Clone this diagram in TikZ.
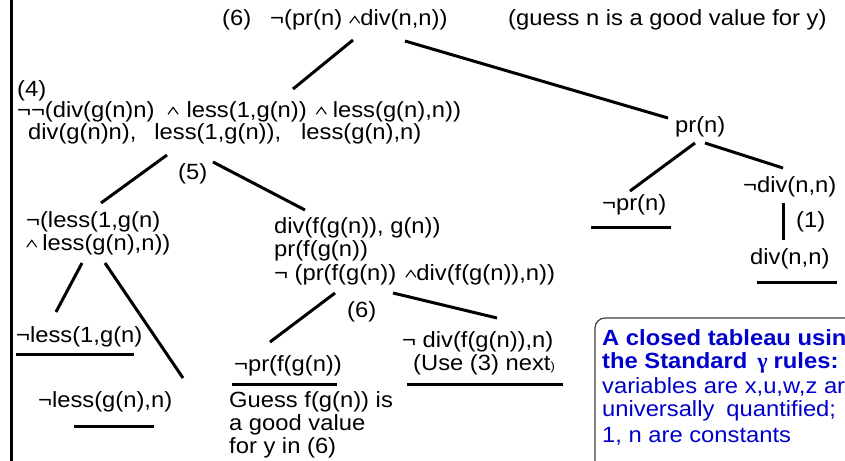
\documentclass[tikz,border=0pt]{standalone}
\usepackage{fontspec}
\setmainfont[FakeStretch=1.08]{Liberation Sans}
\newfontfamily\gamfnt{Liberation Serif}
\newcommand\wed{\tikz[baseline=0pt,x=1pt,y=1pt]\draw[line width=1.1pt,line join=miter] (0,2.8) -- (5,9.6) -- (10,2.8);}
\definecolor{boxblue}{RGB}{0,0,205}
\begin{document}
\begin{tikzpicture}[x=1pt,y=-1pt,
  txt/.style={inner sep=0pt, anchor=base west, font=\fontsize{22}{23}\selectfont},
  btxt/.style={txt, text=boxblue},
  edge/.style={line width=3pt},
  ul/.style={line width=3pt},
]
\useasboundingbox (0,0) rectangle (845,460);
\fill[white] (0,0) rectangle (845,460);
\clip (0,0) rectangle (845,460);

% left border line
\draw[line width=3pt] (11.5,-5) -- (11.5,470);

% texts
\node[txt] (root) at (222,26) {(6)\hspace{19pt}¬(pr(n)\hspace{7pt}\wed div(n,n))};
\node[txt] (guess) at (508,26) {(guess n is a good value for y)};
\node[txt] (n4) at (17,96) {(4)};
\node[txt] (n4b) at (17,117) {¬¬(div(g(n)n)\hspace{13pt}\wed\hspace{8pt}less(1,g(n))\hspace{9pt}\wed\hspace{6pt}less(g(n),n))};
\node[txt] (n4c) at (28,139) {div(g(n)n),\hspace{18pt}less(1,g(n)),\hspace{20pt}less(g(n),n)};
\node[txt] (prn) at (675,132) {pr(n)};
\node[txt] (npr) at (602,210) {¬pr(n)};
\node[txt] (ndiv) at (743,192) {¬div(n,n)};
\node[txt] (one) at (796,227) {(1)};
\node[txt] (divnn) at (750,264) {div(n,n)};
\node[txt] (n5) at (178,179) {(5)};
\node[txt] (nl1) at (26,227) {¬(less(1,g(n)};
\node[txt] (nl2) at (26,250) {\wed\hspace{5pt}less(g(n),n))};
\node[txt] (df1) at (274,233) {div(f(g(n)), g(n))};
\node[txt] (df2) at (274,256.5) {pr(f(g(n))};
\node[txt] (df3) at (274,280) {¬ (pr(f(g(n))\hspace{9pt}\wed div(f(g(n)),n))};
\node[txt] (nless1) at (16,342) {¬less(1,g(n)};
\node[txt] (nless2) at (38,407) {¬less(g(n),n)};
\node[txt] (n6) at (347,317) {(6)};
\node[txt] (nprf) at (234,371) {¬pr(f(g(n))};
\node[txt] (g1) at (229,407) {Guess f(g(n)) is};
\node[txt] (g2) at (229,430) {a good value};
\node[txt] (g3) at (229,453) {for y in (6)};
\node[txt] (ndf) at (402,347) {¬ div(f(g(n)),n)};
\node[txt] (use) at (413,370) {(Use (3) next{\fontsize{12}{12}\selectfont)}};

% connector end points
\coordinate (a1) at (353,40);  \coordinate (a2) at (293,89);
\coordinate (b1) at (405,41);  \coordinate (b2) at (668,118);
\coordinate (c1) at (695,143); \coordinate (c2) at (630,191);
\coordinate (d1) at (705,143); \coordinate (d2) at (783,168);
\coordinate (e1) at (783,203); \coordinate (e2) at (783,240);
\coordinate (f1) at (167,155); \coordinate (f2) at (101,203);
\coordinate (h1) at (213,162); \coordinate (h2) at (305,210);
\coordinate (i1) at (82,263);  \coordinate (i2) at (56,312);
\coordinate (j1) at (105,263); \coordinate (j2) at (183,378);
\coordinate (k1) at (335,293); \coordinate (k2) at (270,342);
\coordinate (m1) at (393,293); \coordinate (m2) at (497,318);

\draw[edge] (a1) -- (a2);
\draw[edge] (b1) -- (b2);
\draw[edge] (c1) -- (c2);
\draw[edge] (d1) -- (d2);
\draw[edge] (e1) -- (e2);
\draw[edge] (f1) -- (f2);
\draw[edge] (h1) -- (h2);
\draw[edge] (i1) -- (i2);
\draw[edge] (j1) -- (j2);
\draw[edge] (k1) -- (k2);
\draw[edge] (m1) -- (m2);

% closing underlines
\coordinate (u1a) at (591,227); \coordinate (u1b) at (671,227);
\coordinate (u2a) at (757,282); \coordinate (u2b) at (837,282);
\coordinate (u3a) at (16,354);  \coordinate (u3b) at (134,354);
\coordinate (u4a) at (74,426);  \coordinate (u4b) at (154,426);
\coordinate (u5a) at (232,384); \coordinate (u5b) at (337,384);
\coordinate (u6a) at (407,384); \coordinate (u6b) at (563,384);
\draw[ul] (u1a) -- (u1b);
\draw[ul] (u2a) -- (u2b);
\draw[ul] (u3a) -- (u3b);
\draw[ul] (u4a) -- (u4b);
\draw[ul] (u5a) -- (u5b);
\draw[ul] (u6a) -- (u6b);

% note box
\draw[line width=1.2pt, draw=black!75, rounded corners=10pt] (595,318) rectangle (900,520);
\node[btxt, font=\fontsize{22}{23}\selectfont\bfseries] (bx1) at (602,345) {A closed tableau using};
\node[btxt, font=\fontsize{22}{23}\selectfont\bfseries] (bx2) at (602,368) {the Standard\hspace{10pt}{\gamfnt\bfseries γ}\hspace{6pt}rules:};
\node[btxt] (bx3) at (602,393) {variables are x,u,w,z are};
\node[btxt] (bx4) at (602,416) {universally\hspace{12pt}quantified;};
\node[btxt] (bx5) at (602,442) {1, n are constants};
\end{tikzpicture}
\end{document}
